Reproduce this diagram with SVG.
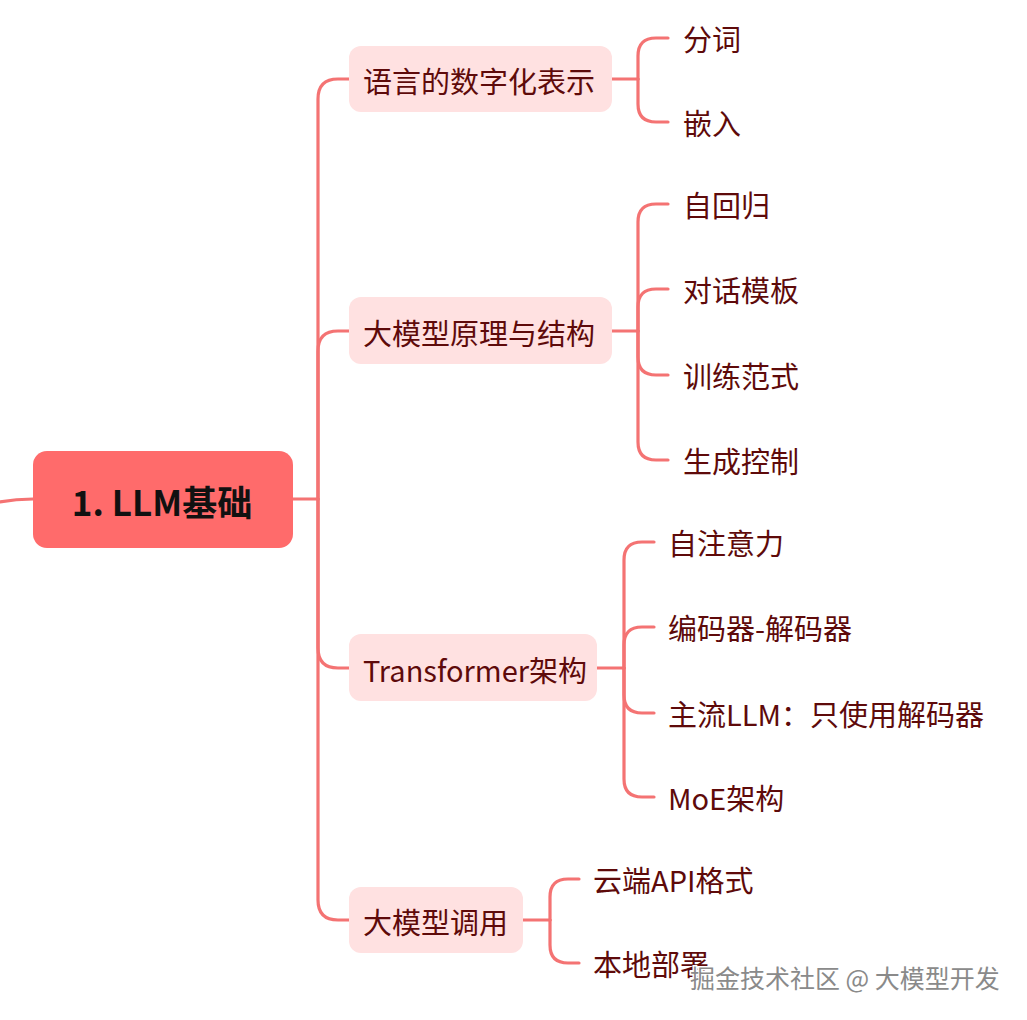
<svg xmlns="http://www.w3.org/2000/svg" width="1027" height="1020" viewBox="0 0 1027 1020">
<style>
.ln{fill:none;stroke:#F47373;stroke-width:3.2;stroke-linecap:round}
.br{fill:#FFE1E1}
.t{font-family:"Noto Sans CJK SC","Noto Sans",sans-serif;font-size:29px;fill:#5E0A0A;dominant-baseline:central}
.rt{font-family:"Noto Sans CJK SC","Noto Sans",sans-serif;font-size:35px;font-weight:bold;fill:#111;dominant-baseline:central;text-anchor:middle}
.wm{font-family:"Noto Sans CJK SC","Noto Sans",sans-serif;font-size:25px;fill:#8a8a8a;stroke:#fff;stroke-width:3;paint-order:stroke}
</style>
<rect width="1027" height="1020" fill="#fff"/>
<g id="connectors">
<path class="ln" d="M0 502 Q16 499 33 499"/>
<path class="ln" d="M293 499 H318"/>
<path class="ln" d="M318 499 V99 Q318 79 338 79 H349"/>
<path class="ln" d="M318 499 V351 Q318 331 338 331 H349"/>
<path class="ln" d="M318 499 V648 Q318 668 338 668 H349"/>
<path class="ln" d="M318 499 V900 Q318 920 338 920 H349"/>
<path class="ln" d="M612 79 H638"/>
<path class="ln" d="M638 79 V56 Q638 38 656 38 H668"/>
<path class="ln" d="M638 79 V104 Q638 122 656 122 H668"/>
<path class="ln" d="M612 331 H638"/>
<path class="ln" d="M638 331 V222 Q638 204 656 204 H668"/>
<path class="ln" d="M638 331 V307 Q638 289 656 289 H668"/>
<path class="ln" d="M638 331 V357 Q638 375 656 375 H668"/>
<path class="ln" d="M638 331 V442 Q638 460 656 460 H668"/>
<path class="ln" d="M597 668 H624"/>
<path class="ln" d="M624 668 V560 Q624 542 642 542 H654"/>
<path class="ln" d="M624 668 V645 Q624 627 642 627 H654"/>
<path class="ln" d="M624 668 V695 Q624 713 642 713 H654"/>
<path class="ln" d="M624 668 V779 Q624 797 642 797 H654"/>
<path class="ln" d="M523 920 H550"/>
<path class="ln" d="M550 920 V897 Q550 879 568 879 H579"/>
<path class="ln" d="M550 920 V945 Q550 963 568 963 H579"/>
</g>
<g id="root">
<rect x="33" y="451" width="260" height="97" rx="14" fill="#FF6B6B"/>
<text class="rt" x="162" y="500">1. LLM基础</text>
</g>
<g id="b1">
<rect class="br" x="349" y="46" width="263" height="66" rx="12"/>
<text class="t" x="363" y="80">语言的数字化表示</text>
</g>
<g id="b2">
<rect class="br" x="349" y="297" width="263" height="67" rx="12"/>
<text class="t" x="363" y="332">大模型原理与结构</text>
</g>
<g id="b3">
<rect class="br" x="349" y="634" width="248" height="67" rx="12"/>
<text class="t" x="363" y="669">Transformer架构</text>
</g>
<g id="b4">
<rect class="br" x="349" y="887" width="174" height="66" rx="12"/>
<text class="t" x="363" y="921">大模型调用</text>
</g>
<g id="l1"><text class="t" x="683" y="38">分词</text></g>
<g id="l2"><text class="t" x="683" y="122">嵌入</text></g>
<g id="l3"><text class="t" x="683" y="204">自回归</text></g>
<g id="l4"><text class="t" x="683" y="289">对话模板</text></g>
<g id="l5"><text class="t" x="683" y="375">训练范式</text></g>
<g id="l6"><text class="t" x="683" y="460">生成控制</text></g>
<g id="l7"><text class="t" x="668" y="542">自注意力</text></g>
<g id="l8"><text class="t" x="668" y="627">编码器-解码器</text></g>
<g id="l9"><text class="t" x="668" y="713">主流LLM：只使用解码器</text></g>
<g id="l10"><text class="t" x="668" y="797">MoE架构</text></g>
<g id="l11"><text class="t" x="593" y="879">云端API格式</text></g>
<g id="l12"><text class="t" x="593" y="963">本地部署</text></g>
<text class="wm" x="690" y="988">掘金技术社区 @ 大模型开发</text>
</svg>
